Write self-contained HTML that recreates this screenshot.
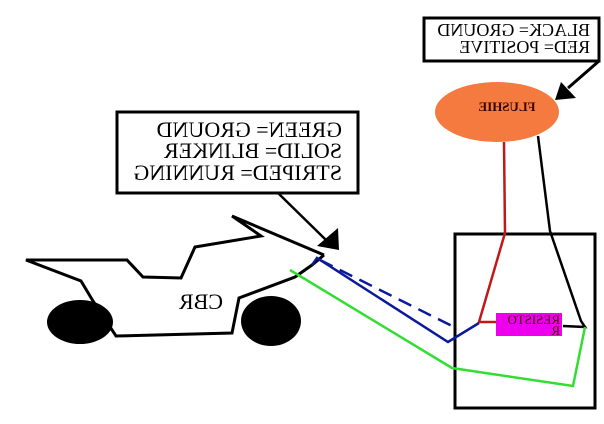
<!DOCTYPE html>
<html><head><style>html,body{margin:0;padding:0;background:#fff}svg{display:block}text{font-family:"Liberation Serif",serif}</style></head>
<body>
<svg width="604" height="424" viewBox="0 0 604 424" xmlns="http://www.w3.org/2000/svg">
<rect x="424" y="18" width="175" height="43" fill="#fff" stroke="#000" stroke-width="3"/>
<g transform="translate(1022,0) scale(-1,1)">
<text x="432" y="36" font-size="18">BLACK= GROUND</text>
<text x="432" y="53" font-size="18">RED= POSITIVE</text>
</g>
<line x1="599" y1="61" x2="568" y2="88" stroke="#000" stroke-width="3"/>
<polygon points="555,100 576,98 561,82" fill="#000"/>
<ellipse cx="497" cy="112" rx="62" ry="30" fill="#f47a40"/>
<g transform="translate(1014,0) scale(-1,1)">
<text x="507" y="111" font-size="13" font-weight="bold" text-anchor="middle" fill="#300">FLUSHIE</text>
</g>
<rect x="117" y="112" width="241" height="81" fill="#fff" stroke="#000" stroke-width="3"/>
<g transform="translate(476,0) scale(-1,1)">
<text x="134" y="137" font-size="22">GREEN= GROUND</text>
<text x="134" y="158" font-size="22">SOLID= BLINKER</text>
<text x="134" y="180" font-size="22">STRIPED= RUNNING</text>
</g>
<line x1="278" y1="193" x2="326" y2="240" stroke="#000" stroke-width="2.5"/>
<polygon points="317,246 338,228 339,250" fill="#000"/>
<polyline points="324,255 232,216 261,236 195,247 181,278 143,277 127,260 26,260 81,281 93,301 116,336 232,333 239,298 295,277 312,265 324,255" fill="none" stroke="#000" stroke-width="3"/>
<ellipse cx="80" cy="322" rx="33" ry="22" fill="#000"/>
<ellipse cx="271" cy="321" rx="30" ry="25" fill="#000"/>
<g transform="translate(402,0) scale(-1,1)">
<text x="201" y="309" font-size="22" text-anchor="middle">CBR</text>
</g>
<rect x="455" y="234" width="140" height="174" fill="none" stroke="#000" stroke-width="3"/>
<polyline points="504,142 505,233 479,322 496,322" fill="none" stroke="#c01818" stroke-width="2.5"/>
<polyline points="538,136 550,231 581,321 585,327 563,326" fill="none" stroke="#000" stroke-width="2.5"/>
<polyline points="312,265 317,258 448,342 479,323" fill="none" stroke="#0a1a9a" stroke-width="2.5"/>
<line x1="320" y1="260" x2="454" y2="327" stroke="#0a1a9a" stroke-width="2.5" stroke-dasharray="14,8"/>
<polyline points="290,270 452,368 573,386 585,327" fill="none" stroke="#33dd33" stroke-width="2.5"/>
<rect x="496" y="313" width="66" height="23" fill="#ee00ee"/>
<g transform="translate(1060,0) scale(-1,1)">
<text x="500" y="324" font-size="13" fill="#400">RESISTO</text>
<text x="500" y="335" font-size="13" fill="#400">R</text>
</g>
</svg>
</body></html>
